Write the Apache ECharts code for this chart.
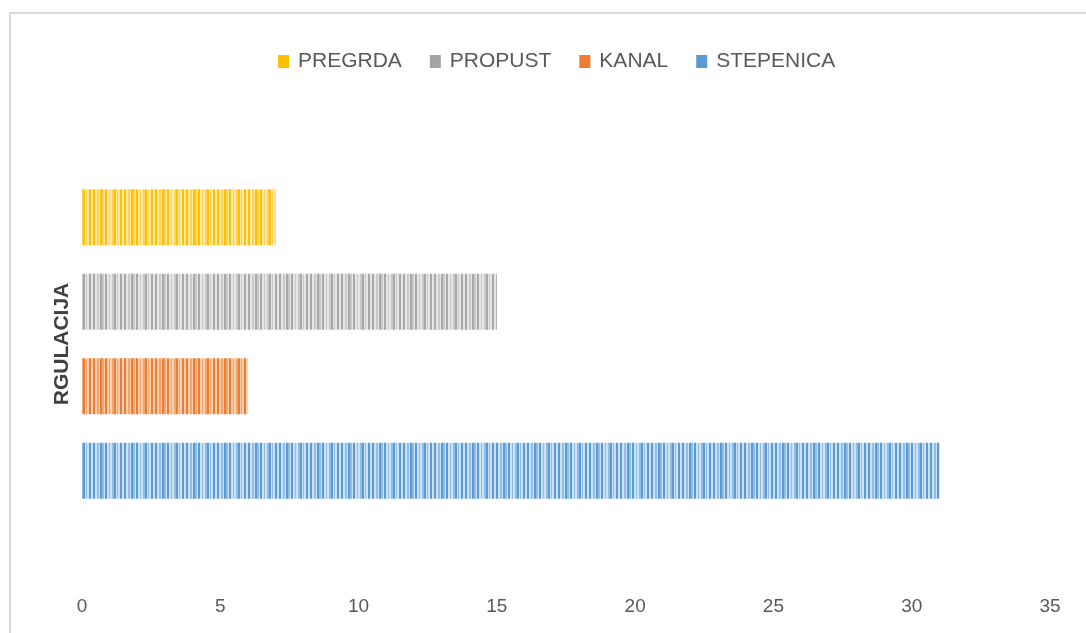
<!DOCTYPE html>
<html>
<head>
<meta charset="utf-8">
<script src="https://cdn.jsdelivr.net/npm/echarts@6/dist/echarts.min.js"></script>
<style>
  html, body { margin: 0; padding: 0; background: #fff; }
  #frame {
    position: absolute; left: 9px; top: 12px; width: 1100px; height: 640px;
    border-left: 2px solid #d9d9d9; border-top: 2px solid #d9d9d9;
  }
  #chart { position: absolute; left: 0; top: 0; width: 1086px; height: 633px; }
</style>
</head>
<body>
<div id="frame"></div>
<div id="chart"></div>
<script>
// Category and counts per object type
const categories = ['RGULACIJA'];
const seriesNames = ['PREGRDA', 'PROPUST', 'KANAL', 'STEPENICA'];
const pregrda = [7];
const propust = [15];
const kanal = [6];
const stepenica = [31];
const xTicks = { min: 0, max: 35, interval: 5 };

// Vertical striped fill, drawn into a small repeating canvas
function stripes(light, mid, dark) {
  const widths = [2, 2, 2, 1, 2, 2, 1, 2, 2, 1, 2, 2, 2, 1, 1, 2, 2, 2];
  const shades = [dark, light, mid, light, dark, mid, light, dark, light, mid, light, mid, dark, light, mid, light, dark, light];
  const total = widths.reduce((a, b) => a + b, 0);
  const c = document.createElement('canvas');
  c.width = total; c.height = 8;
  const g = c.getContext('2d');
  let x = 0;
  widths.forEach((w, i) => {
    g.fillStyle = shades[i];
    g.fillRect(x, 0, w, 8);
    x += w;
  });
  return { image: c, repeat: 'repeat' };
}

const fills = {
  PREGRDA: stripes('#ffe9a6', '#ffd257', '#ffc000'),
  PROPUST: stripes('#e6e6e6', '#c9c9c9', '#a8a8a8'),
  KANAL: stripes('#f9cfb1', '#f3a56e', '#ed7d31'),
  STEPENICA: stripes('#cde2f5', '#90bde6', '#5b9bd5')
};
const swatch = { PREGRDA: '#ffc000', PROPUST: '#a5a5a5', KANAL: '#ed7d31', STEPENICA: '#5b9bd5' };
const values = { PREGRDA: pregrda, PROPUST: propust, KANAL: kanal, STEPENICA: stepenica };

const chart = echarts.init(document.getElementById('chart'), null, { renderer: 'canvas' });
chart.setOption({
  animation: false,
  legend: {
    data: seriesNames.map(n => ({ name: n, itemStyle: { color: swatch[n] } })),
    top: 46,
    left: 273,
    itemWidth: 11,
    itemHeight: 13,
    itemGap: 28,
    icon: 'rect',
    textStyle: { fontFamily: 'Liberation Sans', fontSize: 21, color: '#595959', padding: [0, 0, 0, 4] }
  },
  grid: { left: 82, right: 36, top: 100, bottom: 45, containLabel: false },
  xAxis: {
    type: 'value',
    min: xTicks.min, max: xTicks.max, interval: xTicks.interval,
    axisLine: { show: false }, axisTick: { show: false },
    splitLine: { show: false },
    axisLabel: { fontFamily: 'Liberation Sans', fontSize: 19, color: '#595959', margin: 9 }
  },
  yAxis: {
    type: 'category',
    data: categories,
    axisLine: { show: false }, axisTick: { show: false },
    axisLabel: {
      rotate: 90, fontFamily: 'Liberation Sans', fontWeight: 'bold',
      fontSize: 21, color: '#404040', margin: 9
    }
  },
  series: seriesNames.map(n => ({
    name: n,
    type: 'bar',
    data: values[n],
    barWidth: 56,
    barGap: '51%',
    itemStyle: { color: fills[n] }
  }))
});
</script>
</body>
</html>
